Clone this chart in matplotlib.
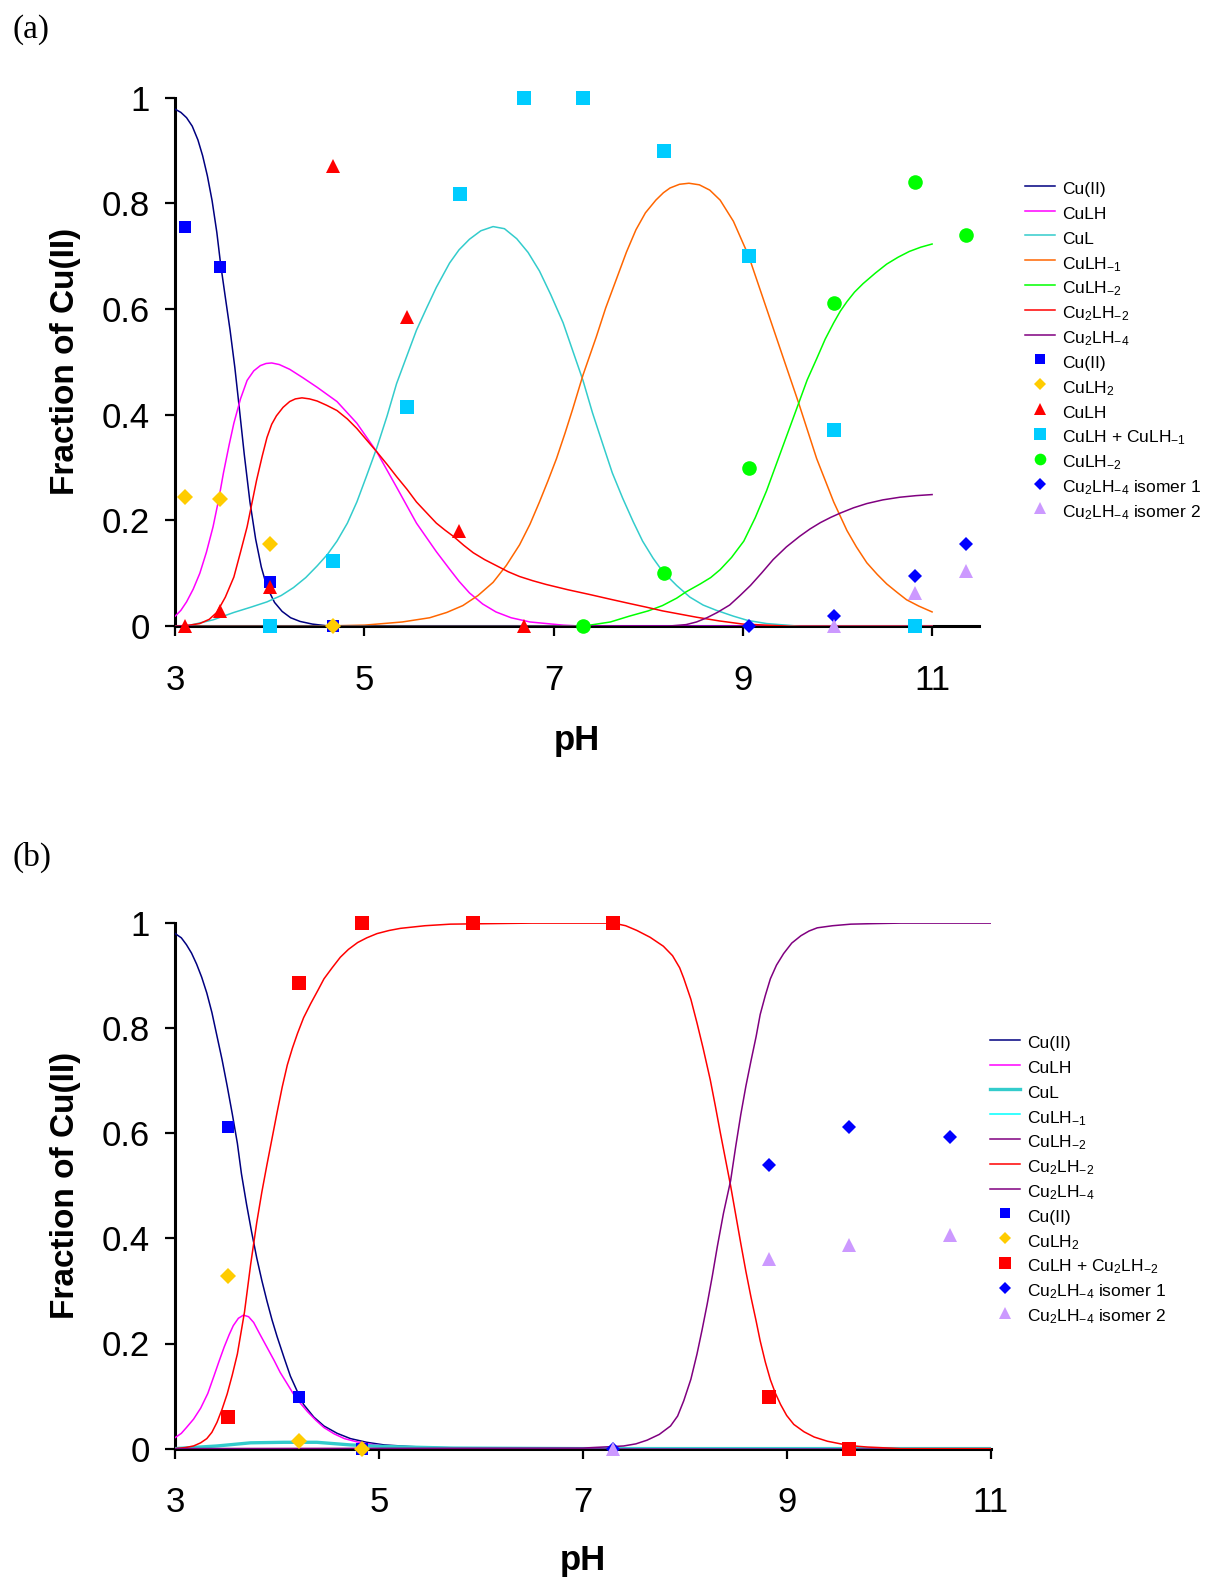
import matplotlib
matplotlib.use("Agg")
import matplotlib.pyplot as plt

plt.rcParams['font.family'] = ['Liberation Sans', 'DejaVu Sans']
plt.rcParams['mathtext.fontset'] = 'custom'
plt.rcParams['mathtext.rm'] = 'Liberation Sans'
plt.rcParams['mathtext.it'] = 'Liberation Sans:italic'
plt.rcParams['mathtext.bf'] = 'Liberation Sans:bold'

# ---------------- axis ticks ----------------
x_ticks = [3, 5, 7, 9, 11]
y_ticks = [0, 0.2, 0.4, 0.6, 0.8, 1.0]
y_tick_labels = ["0", "0.2", "0.4", "0.6", "0.8", "1"]

# ---------------- panel (a): calculated curves ----------------
a_cu_ph = [3.0, 3.06, 3.12, 3.18, 3.24, 3.29, 3.34, 3.39, 3.44, 3.48, 3.53, 3.58, 3.63, 3.67, 3.73,
           3.79, 3.85, 3.91, 3.97, 4.05, 4.13, 4.22, 4.32, 4.45, 4.64, 11.0]
a_cu_f = [0.978, 0.972, 0.962, 0.946, 0.920, 0.890, 0.852, 0.805, 0.745, 0.685, 0.622, 0.560, 0.490,
          0.425, 0.325, 0.235, 0.165, 0.112, 0.074, 0.045, 0.028, 0.016, 0.009, 0.004, 0.0, 0.0]

a_culh_ph = [3.0, 3.06, 3.12, 3.19, 3.26, 3.33, 3.40, 3.46, 3.51, 3.57, 3.62, 3.69, 3.76, 3.83, 3.90,
             3.96, 4.02, 4.10, 4.21, 4.35, 4.50, 4.71, 4.92, 5.13, 5.34, 5.55, 5.76, 5.90, 6.0,
             6.11, 6.25, 6.39, 6.55, 6.75, 7.1, 7.31, 11.0]
a_culh_f = [0.019, 0.030, 0.046, 0.070, 0.100, 0.140, 0.188, 0.240, 0.290, 0.343, 0.384, 0.430, 0.465,
            0.483, 0.493, 0.497, 0.498, 0.495, 0.486, 0.470, 0.452, 0.425, 0.384, 0.330, 0.263,
            0.195, 0.141, 0.108, 0.085, 0.063, 0.042, 0.027, 0.016, 0.008, 0.002, 0.0, 0.0]

a_cul_ph = [3.0, 3.16, 3.40, 3.62, 3.80, 3.97, 4.12, 4.25, 4.38, 4.50, 4.61, 4.71, 4.82, 4.92, 5.02,
            5.13, 5.24, 5.34, 5.45, 5.55, 5.66, 5.76, 5.90, 6.0, 6.11, 6.23, 6.36, 6.48, 6.61, 6.73,
            6.85, 6.97, 7.10, 7.20, 7.31, 7.41, 7.52, 7.62, 7.73, 7.84, 7.94, 8.05, 8.15, 8.30, 8.44,
            8.58, 8.72, 8.90, 9.05, 9.25, 9.6, 11.0]
a_cul_f = [0.0, 0.002, 0.012, 0.026, 0.036, 0.046, 0.058, 0.073, 0.092, 0.114, 0.136, 0.161, 0.195,
           0.235, 0.283, 0.337, 0.398, 0.459, 0.512, 0.560, 0.603, 0.641, 0.687, 0.712, 0.732, 0.748,
           0.756, 0.752, 0.733, 0.707, 0.672, 0.627, 0.574, 0.522, 0.465, 0.404, 0.344, 0.290, 0.242,
           0.198, 0.161, 0.129, 0.104, 0.077, 0.055, 0.040, 0.030, 0.019, 0.011, 0.005, 0.0, 0.0]

a_culhm1_ph = [3.0, 4.5, 5.0, 5.4, 5.69, 5.87, 6.04, 6.20, 6.36, 6.50, 6.64, 6.75, 6.85, 6.94, 7.03,
               7.12, 7.20, 7.31, 7.45, 7.55, 7.66, 7.77, 7.87, 7.97, 8.08, 8.16, 8.23, 8.33, 8.43,
               8.54, 8.65, 8.76, 8.90, 9.06, 9.25, 9.43, 9.59, 9.78, 9.96, 10.10, 10.20, 10.31,
               10.42, 10.52, 10.63, 10.73, 10.86, 11.0]
a_culhm1_f = [0.0, 0.0, 0.002, 0.008, 0.016, 0.026, 0.039, 0.058, 0.083, 0.115, 0.154, 0.193, 0.235,
              0.275, 0.317, 0.365, 0.410, 0.475, 0.547, 0.602, 0.655, 0.708, 0.750, 0.782, 0.806,
              0.820, 0.829, 0.836, 0.838, 0.835, 0.825, 0.806, 0.766, 0.701, 0.601, 0.506, 0.422,
              0.317, 0.235, 0.181, 0.150, 0.120, 0.098, 0.080, 0.064, 0.050, 0.038, 0.027]

a_culhm2_ph = [3.0, 7.31, 7.6, 7.80, 8.0, 8.15, 8.30, 8.40, 8.55, 8.66, 8.76, 8.88, 9.01, 9.13, 9.25,
               9.34, 9.43, 9.51, 9.59, 9.68, 9.78, 9.87, 9.96, 10.03, 10.10, 10.18, 10.27, 10.40,
               10.52, 10.64, 10.76, 10.88, 11.0]
a_culhm2_f = [0.0, 0.0, 0.008, 0.019, 0.029, 0.039, 0.053, 0.065, 0.080, 0.092, 0.107, 0.130, 0.161,
              0.205, 0.256, 0.300, 0.344, 0.383, 0.422, 0.466, 0.506, 0.543, 0.574, 0.596, 0.614,
              0.632, 0.648, 0.668, 0.685, 0.698, 0.709, 0.717, 0.723]

a_cu2lhm2_ph = [3.0, 3.15, 3.26, 3.36, 3.44, 3.53, 3.62, 3.69, 3.76, 3.81, 3.86, 3.92, 3.97, 4.02,
                4.07, 4.14, 4.21, 4.27, 4.34, 4.42, 4.50, 4.60, 4.71, 4.82, 4.92, 5.02, 5.13, 5.24,
                5.34, 5.45, 5.55, 5.66, 5.76, 5.85, 5.94, 6.05, 6.15, 6.27, 6.39, 6.52, 6.64, 6.78,
                6.92, 7.15, 7.38, 7.60, 7.80, 7.98, 8.15, 8.33, 8.51, 8.75, 9.0, 9.5, 11.0]
a_cu2lhm2_f = [0.0, 0.002, 0.005, 0.013, 0.026, 0.055, 0.093, 0.140, 0.188, 0.232, 0.276, 0.322,
               0.357, 0.382, 0.398, 0.414, 0.425, 0.430, 0.432, 0.430, 0.426, 0.418, 0.408, 0.392,
               0.374, 0.353, 0.330, 0.306, 0.283, 0.259, 0.235, 0.214, 0.195, 0.182, 0.170, 0.153,
               0.139, 0.126, 0.115, 0.103, 0.094, 0.086, 0.079, 0.069, 0.060, 0.051, 0.043, 0.036,
               0.029, 0.023, 0.017, 0.010, 0.004, 0.0, 0.0]

a_cu2lhm4_ph = [3.0, 8.2, 8.4, 8.51, 8.62, 8.73, 8.86, 8.97, 9.08, 9.20, 9.32, 9.46, 9.60, 9.71, 9.82,
                9.93, 10.03, 10.17, 10.31, 10.48, 10.66, 10.83, 11.0]
a_cu2lhm4_f = [0.0, 0.0, 0.003, 0.008, 0.016, 0.026, 0.040, 0.058, 0.077, 0.101, 0.126, 0.150, 0.170,
               0.184, 0.196, 0.206, 0.214, 0.224, 0.232, 0.239, 0.244, 0.247, 0.249]

# ---------------- panel (a): experimental points ----------------
a_pt_cu_ph = [3.10, 3.47, 4.00, 4.67]
a_pt_cu_f = [0.756, 0.679, 0.083, 0.0]
a_pt_culh2_ph = [3.10, 3.47, 4.00, 4.67]
a_pt_culh2_f = [0.244, 0.241, 0.156, 0.0]
a_pt_culh_ph = [3.10, 3.47, 4.00, 4.67, 5.45, 6.00, 6.69]
a_pt_culh_f = [0.0, 0.028, 0.075, 0.871, 0.584, 0.180, 0.0]
a_pt_mix_ph = [4.00, 4.67, 5.45, 6.01, 6.69, 7.31, 8.17, 9.06, 9.96, 10.82]
a_pt_mix_f = [0.0, 0.124, 0.415, 0.817, 1.0, 1.0, 0.899, 0.701, 0.371, 0.0]
a_pt_culhm2_ph = [7.31, 8.17, 9.06, 9.96, 10.82, 11.36]
a_pt_culhm2_f = [0.0, 0.100, 0.300, 0.611, 0.840, 0.741]
a_pt_iso1_ph = [9.06, 9.96, 10.82, 11.36]
a_pt_iso1_f = [0.0, 0.019, 0.095, 0.156]
a_pt_iso2_ph = [9.96, 10.82, 11.36]
a_pt_iso2_f = [0.0, 0.063, 0.104]

# ---------------- panel (b): calculated curves ----------------
b_cu_ph = [3.0, 3.06, 3.11, 3.16, 3.21, 3.26, 3.31, 3.36, 3.41, 3.46, 3.51, 3.56, 3.61, 3.65, 3.70,
           3.75, 3.80, 3.85, 3.90, 3.95, 4.00, 4.07, 4.13, 4.20, 4.26, 4.36, 4.46, 4.59, 4.72, 4.88,
           5.05, 5.30, 5.54, 6.5, 11.0]
b_cu_f = [0.980, 0.972, 0.959, 0.943, 0.922, 0.897, 0.867, 0.830, 0.785, 0.740, 0.690, 0.637, 0.581,
          0.523, 0.465, 0.412, 0.363, 0.320, 0.281, 0.245, 0.213, 0.172, 0.138, 0.108, 0.084, 0.060,
          0.043, 0.029, 0.019, 0.012, 0.007, 0.004, 0.002, 0.0, 0.0]

b_culh_ph = [3.0, 3.06, 3.11, 3.18, 3.25, 3.32, 3.38, 3.43, 3.48, 3.53, 3.57, 3.62, 3.67, 3.72, 3.77,
             3.83, 3.90, 3.97, 4.03, 4.10, 4.16, 4.23, 4.30, 4.38, 4.46, 4.56, 4.66, 4.78, 4.89,
             5.05, 5.21, 6.0, 11.0]
b_culh_f = [0.021, 0.029, 0.040, 0.056, 0.077, 0.105, 0.138, 0.166, 0.193, 0.217, 0.234, 0.248, 0.254,
            0.251, 0.240, 0.218, 0.193, 0.168, 0.145, 0.123, 0.104, 0.086, 0.070, 0.054, 0.040,
            0.028, 0.019, 0.013, 0.009, 0.005, 0.003, 0.0, 0.0]

b_cul_ph = [3.0, 3.41, 3.74, 4.07, 4.39, 4.72, 5.05, 5.7, 7.0, 11.0]
b_cul_f = [0.0, 0.005, 0.011, 0.012, 0.012, 0.007, 0.004, 0.001, 0.0, 0.0]

b_culhm1_ph = [3.0, 11.0]
b_culhm1_f = [0.0, 0.0]

b_culhm2_ph = [3.0, 11.0]
b_culhm2_f = [0.0, 0.0]

b_cu2lhm2_ph = [3.0, 3.10, 3.18, 3.25, 3.31, 3.36, 3.41, 3.46, 3.51, 3.56, 3.61, 3.68, 3.74, 3.80,
                3.85, 3.90, 3.95, 4.00, 4.05, 4.10, 4.15, 4.20, 4.26, 4.33, 4.40, 4.46, 4.54, 4.62,
                4.70, 4.79, 4.88, 4.98, 5.10, 5.21, 5.45, 5.70, 6.5, 7.30, 7.42, 7.53, 7.66, 7.79,
                7.88, 7.95, 7.99, 8.06, 8.12, 8.18, 8.25, 8.30, 8.35, 8.40, 8.45, 8.50, 8.55, 8.60,
                8.65, 8.70, 8.74, 8.79, 8.84, 8.89, 8.94, 9.00, 9.07, 9.17, 9.27, 9.40, 9.53, 9.66,
                9.79, 10.12, 11.0]
b_cu2lhm2_f = [0.0, 0.002, 0.005, 0.011, 0.019, 0.031, 0.050, 0.075, 0.104, 0.140, 0.180, 0.260, 0.350,
               0.430, 0.488, 0.540, 0.590, 0.640, 0.688, 0.730, 0.762, 0.790, 0.820, 0.847, 0.872,
               0.894, 0.915, 0.935, 0.950, 0.963, 0.972, 0.980, 0.986, 0.990, 0.995, 0.998, 1.0, 1.0,
               0.995, 0.986, 0.973, 0.956, 0.938, 0.915, 0.895, 0.855, 0.810, 0.762, 0.702, 0.652,
               0.600, 0.550, 0.500, 0.445, 0.390, 0.337, 0.288, 0.243, 0.205, 0.165, 0.131, 0.105,
               0.084, 0.063, 0.046, 0.032, 0.022, 0.014, 0.009, 0.005, 0.003, 0.0, 0.0]

b_cu2lhm4_ph = [3.0, 7.0, 7.40, 7.52, 7.63, 7.75, 7.86, 7.93, 7.99, 8.06, 8.12, 8.17, 8.22, 8.27, 8.32,
                8.38, 8.45, 8.50, 8.55, 8.60, 8.65, 8.70, 8.74, 8.79, 8.84, 8.90, 8.97, 9.05, 9.14,
                9.22, 9.30, 9.45, 9.63, 9.85, 10.12, 11.0]
b_cu2lhm4_f = [0.0, 0.001, 0.005, 0.009, 0.016, 0.027, 0.043, 0.062, 0.091, 0.132, 0.180, 0.226, 0.275,
               0.328, 0.385, 0.448, 0.510, 0.575, 0.636, 0.690, 0.738, 0.784, 0.826, 0.862, 0.894,
               0.920, 0.942, 0.962, 0.976, 0.985, 0.991, 0.995, 0.998, 0.999, 1.0, 1.0]

# ---------------- panel (b): experimental points ----------------
b_pt_cu_ph = [3.52, 4.21, 4.83]
b_pt_cu_f = [0.612, 0.099, 0.0]
b_pt_culh2_ph = [3.52, 4.21, 4.83]
b_pt_culh2_f = [0.329, 0.014, 0.0]
b_pt_mix_ph = [3.52, 4.21, 4.83, 5.92, 7.30, 8.83, 9.61]
b_pt_mix_f = [0.060, 0.886, 1.0, 1.0, 1.0, 0.099, 0.0]
b_pt_iso1_ph = [7.30, 8.83, 9.61, 10.60]
b_pt_iso1_f = [0.0, 0.540, 0.612, 0.593]
b_pt_iso2_ph = [7.30, 8.83, 9.61, 10.60]
b_pt_iso2_f = [0.0, 0.360, 0.387, 0.406]

# ---------------- labels ----------------
lab_cu = "Cu(II)"
lab_culh = "CuLH"
lab_cul = "CuL"
lab_culhm1 = r"CuLH$_{\mathregular{-1}}$"
lab_culhm2 = r"CuLH$_{\mathregular{-2}}$"
lab_cu2lhm2 = r"Cu$_{\mathregular{2}}$LH$_{\mathregular{-2}}$"
lab_cu2lhm4 = r"Cu$_{\mathregular{2}}$LH$_{\mathregular{-4}}$"
lab_culh2 = r"CuLH$_{\mathregular{2}}$"
lab_mix_a = r"CuLH + CuLH$_{\mathregular{-1}}$"
lab_mix_b = r"CuLH + Cu$_{\mathregular{2}}$LH$_{\mathregular{-2}}$"
lab_iso1 = r"Cu$_{\mathregular{2}}$LH$_{\mathregular{-4}}$ isomer 1"
lab_iso2 = r"Cu$_{\mathregular{2}}$LH$_{\mathregular{-4}}$ isomer 2"

C_NAVY = "#000080"
C_MAG = "#FF00FF"
C_TURQ = "#33CCCC"
C_ORANGE = "#FF6600"
C_LIME = "#00FF00"
C_RED = "#FF0000"
C_PURPLE = "#800080"
C_CYAN = "#00FFFF"
C_BLUE = "#0000FF"
C_GOLD = "#FFCC00"
C_SKY = "#00CCFF"
C_LILAC = "#CC99FF"

W, H = 1206, 1578
fig = plt.figure(figsize=(W / 100, H / 100), dpi=100)

ax_a = fig.add_axes([175.2 / W, 1 - 626.2 / H, (979.4 - 175.2) / W, 528.6 / H])
ax_b = fig.add_axes([175.2 / W, 1 - 1448.6 / H, (990.5 - 175.2) / W, 525.5 / H])

LW = 1.1


def style(ax, xmax, xlab_y, ylab_x):
    ax.set_xlim(3, xmax)
    ax.set_ylim(0, 1)
    ax.set_xticks(x_ticks)
    ax.set_yticks(y_ticks)
    ax.set_yticklabels(y_tick_labels)
    for s in ["top", "right"]:
        ax.spines[s].set_visible(False)
    for s in ["left", "bottom"]:
        ax.spines[s].set_linewidth(2.2)
        ax.spines[s].set_color("black")
    ax.tick_params(axis="both", direction="out", length=7, width=1.6, labelsize=25, color="black")
    ax.tick_params(axis="y", pad=11)
    ax.tick_params(axis="x", pad=20)
    ax.set_xlabel("pH", fontsize=25, fontweight="bold")
    ax.set_ylabel("Fraction of Cu(II)", fontsize=24, fontweight="bold")
    ax.xaxis.set_label_coords(0.5, xlab_y)
    ax.xaxis.label.set_va("center")
    ax.yaxis.set_label_coords(ylab_x, 0.5)
    ax.yaxis.label.set_va("center")


# panel (a)
ax_a.plot(a_cu_ph, a_cu_f, color=C_NAVY, lw=LW, label=lab_cu, zorder=3)
ax_a.plot(a_culh_ph, a_culh_f, color=C_MAG, lw=LW, label=lab_culh, zorder=3)
ax_a.plot(a_cul_ph, a_cul_f, color=C_TURQ, lw=LW, label=lab_cul, zorder=3)
ax_a.plot(a_culhm1_ph, a_culhm1_f, color=C_ORANGE, lw=LW, label=lab_culhm1, zorder=3)
ax_a.plot(a_culhm2_ph, a_culhm2_f, color=C_LIME, lw=LW, label=lab_culhm2, zorder=3)
ax_a.plot(a_cu2lhm2_ph, a_cu2lhm2_f, color=C_RED, lw=LW, label=lab_cu2lhm2, zorder=3)
ax_a.plot(a_cu2lhm4_ph, a_cu2lhm4_f, color=C_PURPLE, lw=LW, label=lab_cu2lhm4, zorder=3)

mk = dict(linestyle="none", markeredgewidth=0, clip_on=False, zorder=4)
ax_a.plot(a_pt_cu_ph, a_pt_cu_f, marker="s", ms=8.2, color=C_BLUE, label=lab_cu, **mk)
ax_a.plot(a_pt_culh2_ph, a_pt_culh2_f, marker="D", ms=7.8, color=C_GOLD, label=lab_culh2, **mk)
ax_a.plot(a_pt_culh_ph, a_pt_culh_f, marker="^", ms=10.5, color=C_RED, label=lab_culh, **mk)
ax_a.plot(a_pt_mix_ph, a_pt_mix_f, marker="s", ms=10.0, color=C_SKY, label=lab_mix_a, **mk)
ax_a.plot(a_pt_culhm2_ph, a_pt_culhm2_f, marker="o", ms=10.5, color=C_LIME, label=lab_culhm2, **mk)
ax_a.plot(a_pt_iso1_ph, a_pt_iso1_f, marker="D", ms=7.4, color=C_BLUE, label=lab_iso1, **mk)
ax_a.plot(a_pt_iso2_ph, a_pt_iso2_f, marker="^", ms=10.5, color=C_LILAC, label=lab_iso2, **mk)

style(ax_a, 11.5, -0.216, -0.137)

# panel (b)
ax_b.plot(b_cu_ph, b_cu_f, color=C_NAVY, lw=LW, label=lab_cu, zorder=3)
ax_b.plot(b_culh_ph, b_culh_f, color=C_MAG, lw=LW, label=lab_culh, zorder=3)
ax_b.plot(b_cul_ph, b_cul_f, color=C_TURQ, lw=2.4, label=lab_cul, zorder=3)
ax_b.plot(b_culhm1_ph, b_culhm1_f, color=C_CYAN, lw=LW, label=lab_culhm1, zorder=3)
ax_b.plot(b_culhm2_ph, b_culhm2_f, color=C_PURPLE, lw=LW, label=lab_culhm2, zorder=3)
ax_b.plot(b_cu2lhm2_ph, b_cu2lhm2_f, color=C_RED, lw=LW, label=lab_cu2lhm2, zorder=3)
ax_b.plot(b_cu2lhm4_ph, b_cu2lhm4_f, color=C_PURPLE, lw=LW, label=lab_cu2lhm4, zorder=3)

ax_b.plot(b_pt_cu_ph, b_pt_cu_f, marker="s", ms=8.2, color=C_BLUE, label=lab_cu, **mk)
ax_b.plot(b_pt_culh2_ph, b_pt_culh2_f, marker="D", ms=7.8, color=C_GOLD, label=lab_culh2, **mk)
ax_b.plot(b_pt_mix_ph, b_pt_mix_f, marker="s", ms=10.3, color=C_RED, label=lab_mix_b, **mk)
ax_b.plot(b_pt_iso1_ph, b_pt_iso1_f, marker="D", ms=7.4, color=C_BLUE, label=lab_iso1, **mk)
ax_b.plot(b_pt_iso2_ph, b_pt_iso2_f, marker="^", ms=10.5, color=C_LILAC, label=lab_iso2, **mk)

style(ax_b, 11.0, -0.212, -0.135)

leg_kw = dict(loc="upper left", bbox_transform=fig.transFigure, frameon=False, fontsize=12.5,
              handlelength=1.72, handleheight=1.7, handletextpad=0.4, labelspacing=0.08,
              borderpad=0, borderaxespad=0, numpoints=1, markerscale=0.8)
ax_a.legend(bbox_to_anchor=(1025 / W, 1 - 177 / H), **leg_kw)
ax_b.legend(bbox_to_anchor=(990 / W, 1 - 1031 / H), **leg_kw)

fig.text(12 / W, 1 - 30 / H, "(a)", fontsize=24, family=["Liberation Serif", "DejaVu Serif"],
         ha="left", va="center")
fig.text(12 / W, 1 - 857 / H, "(b)", fontsize=24, family=["Liberation Serif", "DejaVu Serif"],
         ha="left", va="center")

fig.savefig("out.png", dpi=100, facecolor="white")
